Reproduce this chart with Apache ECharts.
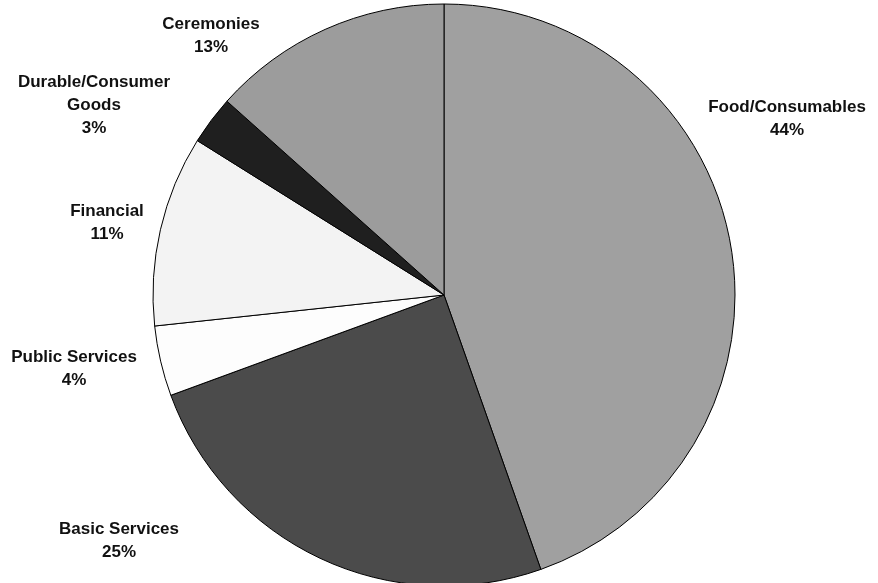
<!DOCTYPE html>
<html>
<head>
<meta charset="utf-8">
<script src="https://cdn.jsdelivr.net/npm/echarts@6/dist/echarts.min.js"></script>
<style>
  html, body { margin: 0; padding: 0; background: #fff; }
  #chart { width: 878px; height: 583px; }
</style>
</head>
<body>
<div id="chart"></div>
<script>
// clockwise from 12 o'clock
const categories = [
  "Food/Consumables",
  "Basic Services",
  "Public Services",
  "Financial",
  "Durable/Consumer\nGoods",
  "Ceremonies",
];
const shares = [44.6, 24.8, 3.9, 10.6, 2.7, 13.4];
const shareLabels = ["44%", "25%", "4%", "11%", "3%", "13%"];

const sliceColors = ["#a0a0a0", "#4b4b4b", "#fdfdfd", "#f3f3f3", "#1f1f1f", "#9c9c9c"];
// centre of each label block
const labelPos = [
  [787, 119],
  [119, 541],
  [74, 369],
  [107, 223],
  [94, 105],
  [211, 36],
];

const chart = echarts.init(document.getElementById("chart"), null, { renderer: "canvas" });

chart.setOption({
  animation: false,
  series: [
    {
      type: "pie",
      center: [444, 295],
      radius: 291,
      startAngle: 90,
      clockwise: true,
      avoidLabelOverlap: false,
      data: categories.map((name, i) => ({
        name,
        value: shares[i],
        itemStyle: { color: sliceColors[i] },
      })),
      itemStyle: {
        borderColor: "#000",
        borderWidth: 1,
      },
      emphasis: { disabled: true },
      label: {
        show: true,
        position: "outside",
        formatter: (p) => p.name + "\n" + shareLabels[p.dataIndex],
        color: "#111",
        fontFamily: "Liberation Sans, Arial, sans-serif",
        fontWeight: "bold",
        fontSize: 17,
        lineHeight: 23,
        align: "center",
      },
      labelLine: { show: false },
      labelLayout: (params) => ({
        x: labelPos[params.dataIndex][0],
        y: labelPos[params.dataIndex][1],
        align: "center",
        verticalAlign: "middle",
      }),
    },
  ],
});
</script>
</body>
</html>
